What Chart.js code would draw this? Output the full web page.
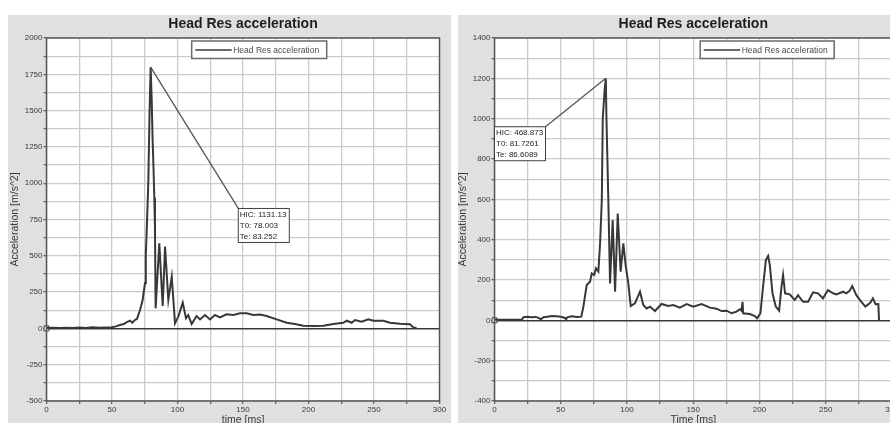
<!DOCTYPE html>
<html>
<head>
<meta charset="utf-8">
<script src="https://cdn.jsdelivr.net/npm/chart.js@4.4.0/dist/chart.umd.min.js"></script>
<style>
    html, body { margin: 0; padding: 0; background: #fff; width: 890px; height: 423px; overflow: hidden; }
    canvas { position: absolute; }
    #izq { left: 8px; top: 15px; }
    #der { left: 458px; top: 15px; }
</style>
</head>
<body>
<canvas id="izq" width="443" height="414"></canvas>
<canvas id="der" width="445" height="414"></canvas>
<script>
// datos (tiempo en ms, aceleracion en m/s^2)
const tiempo1 = [0, 5, 10, 15, 20, 25, 30, 35, 40, 45, 50, 53, 56, 59, 61, 63.7, 65.5, 67.5, 69, 71.4, 73.4, 75.2, 75.8, 76.6, 77.7, 78.7, 79.5, 80.3, 81, 81.7, 82.3, 82.8, 83.3, 86.1, 88.7, 90.5, 93, 95.6, 98.1, 100.6, 104, 106.5, 108.2, 110.8, 114.6, 117.2, 121, 124.8, 128.6, 132.4, 137.5, 142.6, 147.7, 152.8, 157.9, 163, 168, 175.7, 183.4, 189.7, 196, 204, 211.3, 219, 226.6, 229.2, 233, 235.5, 240.6, 245.7, 249.5, 257.1, 262.2, 269.8, 277.5, 280, 282.5];
const acel1 = [3, 4, 2, 5, 3, 6, 3, 8, 5, 7, 8, 14, 23, 30, 42, 53, 40, 58, 65, 127, 196, 312, 500, 700, 1000, 1500, 1800, 1580, 1300, 1100, 900, 700, 138, 586, 154, 563, 196, 356, 35, 81, 177, 70, 92, 30, 85, 62, 92, 62, 92, 76, 97, 92, 104, 104, 92, 95, 85, 62, 39, 30, 19, 17, 19, 30, 39, 53, 39, 58, 46, 62, 53, 53, 39, 32, 28, 7, 5];

const tiempo2 = [0, 10, 20.6, 21.9, 25, 28, 31, 33.2, 35, 37, 40, 43.2, 47, 50, 53.3, 54, 55, 58, 62.5, 65.5, 67.1, 68.3, 69.6, 72.1, 73.4, 75.2, 76.6, 78.4, 79.7, 81, 81.7, 83.2, 84, 84.5, 85.2, 85.9, 87.2, 89.2, 91, 93, 95.2, 97.2, 99.1, 101, 102.8, 106, 109.8, 112.3, 114.8, 117.4, 121.1, 126.1, 131.1, 134.9, 139.9, 145, 150, 156.3, 162.6, 167.6, 171.4, 175.2, 178.9, 182.7, 185.2, 186.4, 187.2, 187.7, 192.7, 196.5, 198.2, 200.7, 202.7, 204.8, 206.5, 207.8, 209.8, 212.3, 214.8, 216.6, 217.8, 219.3, 222.8, 226.6, 229.1, 232.9, 236.7, 240.4, 244.2, 247.9, 251.7, 255.5, 258, 263, 265.5, 268, 270, 273.1, 276.9, 279.9, 283.6, 285.6, 287.6, 289.7, 290.2];
const acel2 = [3, 3, 3, 16, 18, 15, 17, 12, 5, 15, 18, 21, 20, 18, 12, 5, 15, 20, 16, 18, 68, 120, 175, 191, 233, 225, 258, 242, 382, 600, 1000, 1150, 1200, 1000, 800, 600, 183, 497, 142, 530, 241, 382, 266, 183, 71, 84, 142, 76, 59, 68, 46, 81, 71, 76, 63, 81, 68, 81, 63, 58, 46, 48, 35, 43, 55, 48, 92, 35, 31, 21, 10, 35, 167, 299, 319, 274, 134, 68, 48, 167, 225, 134, 129, 101, 125, 92, 92, 139, 134, 109, 150, 134, 129, 142, 134, 146, 170, 125, 92, 68, 87, 109, 80, 81, 0];

const etiquetasX = [0, 50, 100, 150, 200, 250, 300];
const etiquetasY1 = [-500, -250, 0, 250, 500, 750, 1000, 1250, 1500, 1750, 2000];
const etiquetasY2 = [-400, -200, 0, 200, 400, 600, 800, 1000, 1200, 1400];

const hic1 = ['HIC: 1131.13', 'T0: 78.003', 'Te: 83.252'];
const hic2 = ['HIC: 468.873', 'T0: 81.7261', 'Te: 86.6089'];

const titulo = 'Head Res acceleration';
const fuente = '"Liberation Sans", Arial, sans-serif';

Chart.defaults.font.family = fuente;
Chart.defaults.color = '#3a3a3a';

// fondo gris, area blanca, titulo, marco, leyenda y caja del HIC
const marco = {
    id: 'marco',
    beforeDraw(chart, args, op) {
        const { ctx, chartArea: a, width, height } = chart;
        ctx.save();
        ctx.fillStyle = '#e0e0e0';
        ctx.fillRect(0, 0, width, height);
        ctx.fillStyle = '#ffffff';
        ctx.fillRect(a.left, a.top, a.right - a.left, a.bottom - a.top);
        ctx.fillStyle = '#1e1e1e';
        ctx.font = 'bold 14px ' + fuente;
        ctx.textAlign = 'center';
        ctx.textBaseline = 'middle';
        ctx.fillText(titulo, (a.left + a.right) / 2, 9.5);
        ctx.restore();
    },
    afterDraw(chart, args, op) {
        const { ctx, chartArea: a, scales } = chart;
        ctx.save();
        ctx.strokeStyle = '#555';
        ctx.lineWidth = 1.5;
        ctx.strokeRect(a.left, a.top, a.right - a.left, a.bottom - a.top);

        // leyenda
        const lx = a.left + op.leyendaX, ly = a.top + 3;
        ctx.fillStyle = '#fff';
        ctx.fillRect(lx, ly, op.leyendaAncho, 17.5);
        ctx.strokeStyle = '#6a6a6a';
        ctx.strokeRect(lx, ly, op.leyendaAncho, 17.5);
        ctx.strokeStyle = '#3a3a3a';
        ctx.beginPath();
        ctx.moveTo(lx + 3.5, ly + 9);
        ctx.lineTo(lx + 40, ly + 9);
        ctx.stroke();
        ctx.fillStyle = '#4a4a4a';
        ctx.font = '8.5px ' + fuente;
        ctx.textAlign = 'left';
        ctx.textBaseline = 'middle';
        ctx.fillText(titulo, lx + 41.5, ly + 9.5);

        // caja HIC con linea al maximo
        const datos = chart.data.datasets[0].data;
        let pico = datos[0];
        for (let p of datos) { if (p.y > pico.y) pico = p; }
        const px = scales.x.getPixelForValue(pico.x);
        const py = scales.y.getPixelForValue(pico.y);
        const bx = scales.x.getPixelForValue(op.caja.t);
        const by = scales.y.getPixelForValue(op.caja.v);
        const ancho = 51, alto = 34;
        ctx.strokeStyle = '#555';
        ctx.lineWidth = 1.3;
        ctx.beginPath();
        ctx.moveTo(px, py);
        ctx.lineTo(op.caja.esquina === 'der' ? bx + ancho : bx, by);
        ctx.stroke();
        ctx.fillStyle = '#fff';
        ctx.fillRect(bx, by, ancho, alto);
        ctx.strokeStyle = '#404040';
        ctx.lineWidth = 1;
        ctx.strokeRect(bx, by, ancho, alto);
        ctx.fillStyle = '#222';
        ctx.font = '8px ' + fuente;
        op.textos.forEach((txt, i) => {
            ctx.fillText(txt, bx + 1.5, by + 6.5 + i * 11);
        });
        ctx.restore();
    }
};

function ejes(minY, maxY, pasoY, etiquetasY, tituloX, anchoY, padTitulo) {
    return {
        x: {
            type: 'linear', min: 0, max: 300,
            ticks: {
                stepSize: 25, autoSkip: false, maxRotation: 0, padding: 1,
                font: { size: 8 },
                callback: v => etiquetasX.includes(v) ? v : ''
            },
            grid: { color: '#cbcbcb', lineWidth: 1.3, tickLength: 3, tickColor: '#666' },
            border: { display: false },
            title: { display: true, text: tituloX, font: { size: 10.5, lineHeight: 1 }, padding: { top: 0, bottom: 3.75 } },
            afterFit: s => { s.height = 28; }
        },
        y: {
            type: 'linear', min: minY, max: maxY,
            ticks: {
                stepSize: pasoY, autoSkip: false, padding: 1,
                font: { size: 8 },
                callback: v => etiquetasY.includes(v) ? v : ''
            },
            grid: {
                color: c => (c.tick && c.tick.value === 0) ? '#3a3a3a' : '#cbcbcb',
                lineWidth: c => (c.tick && c.tick.value === 0) ? 1.6 : 1.3,
                tickLength: 3, tickColor: '#666'
            },
            border: { display: false },
            title: { display: true, text: 'Acceleration [m/s^2]', font: { size: 10.5, lineHeight: 1 }, padding: { top: padTitulo, bottom: 0 } },
            afterFit: s => { s.width = anchoY; }
        }
    };
}

function grafico(id, tiempos, valores, opc) {
    const puntos = tiempos.map((t, i) => ({ x: t, y: valores[i] }));
    return new Chart(document.getElementById(id), {
        type: 'line',
        data: {
            datasets: [{
                label: titulo,
                data: puntos,
                borderColor: '#383838',
                borderWidth: 2,
                pointRadius: 0,
                tension: 0
            }, {
                label: 'origen',
                data: [{ x: 0, y: 0 }],
                showLine: false,
                pointStyle: 'rect',
                pointRadius: 3.5,
                pointBackgroundColor: '#fff',
                pointBorderColor: '#333',
                pointBorderWidth: 1,
                clip: false
            }]
        },
        options: {
            responsive: false,
            animation: false,
            layout: { padding: { top: 23, right: opc.derecha, left: 0, bottom: 0 } },
            plugins: {
                legend: { display: false },
                tooltip: { enabled: false },
                title: { display: false },
                marco: opc.marco
            },
            scales: ejes(opc.minY, opc.maxY, opc.paso, opc.etiquetas, opc.tituloX, opc.anchoY, opc.padTitulo)
        },
        plugins: [marco]
    });
}

grafico('izq', tiempo1, acel1, {
    minY: -500, maxY: 2000, paso: 125, etiquetas: etiquetasY1,
    tituloX: 'time [ms]', anchoY: 38.5, padTitulo: 1.75, derecha: 11.5,
    marco: { leyendaX: 145.2, leyendaAncho: 135, textos: hic1, caja: { t: 146.4, v: 826, esquina: 'izq' } }
});

grafico('der', tiempo2, acel2, {
    minY: -400, maxY: 1400, paso: 100, etiquetas: etiquetasY2,
    tituloX: 'Time [ms]', anchoY: 36.5, padTitulo: 0, derecha: 11,
    marco: { leyendaX: 205.7, leyendaAncho: 134, textos: hic2, caja: { t: 0, v: 960, esquina: 'der' } }
});
</script>
</body>
</html>
